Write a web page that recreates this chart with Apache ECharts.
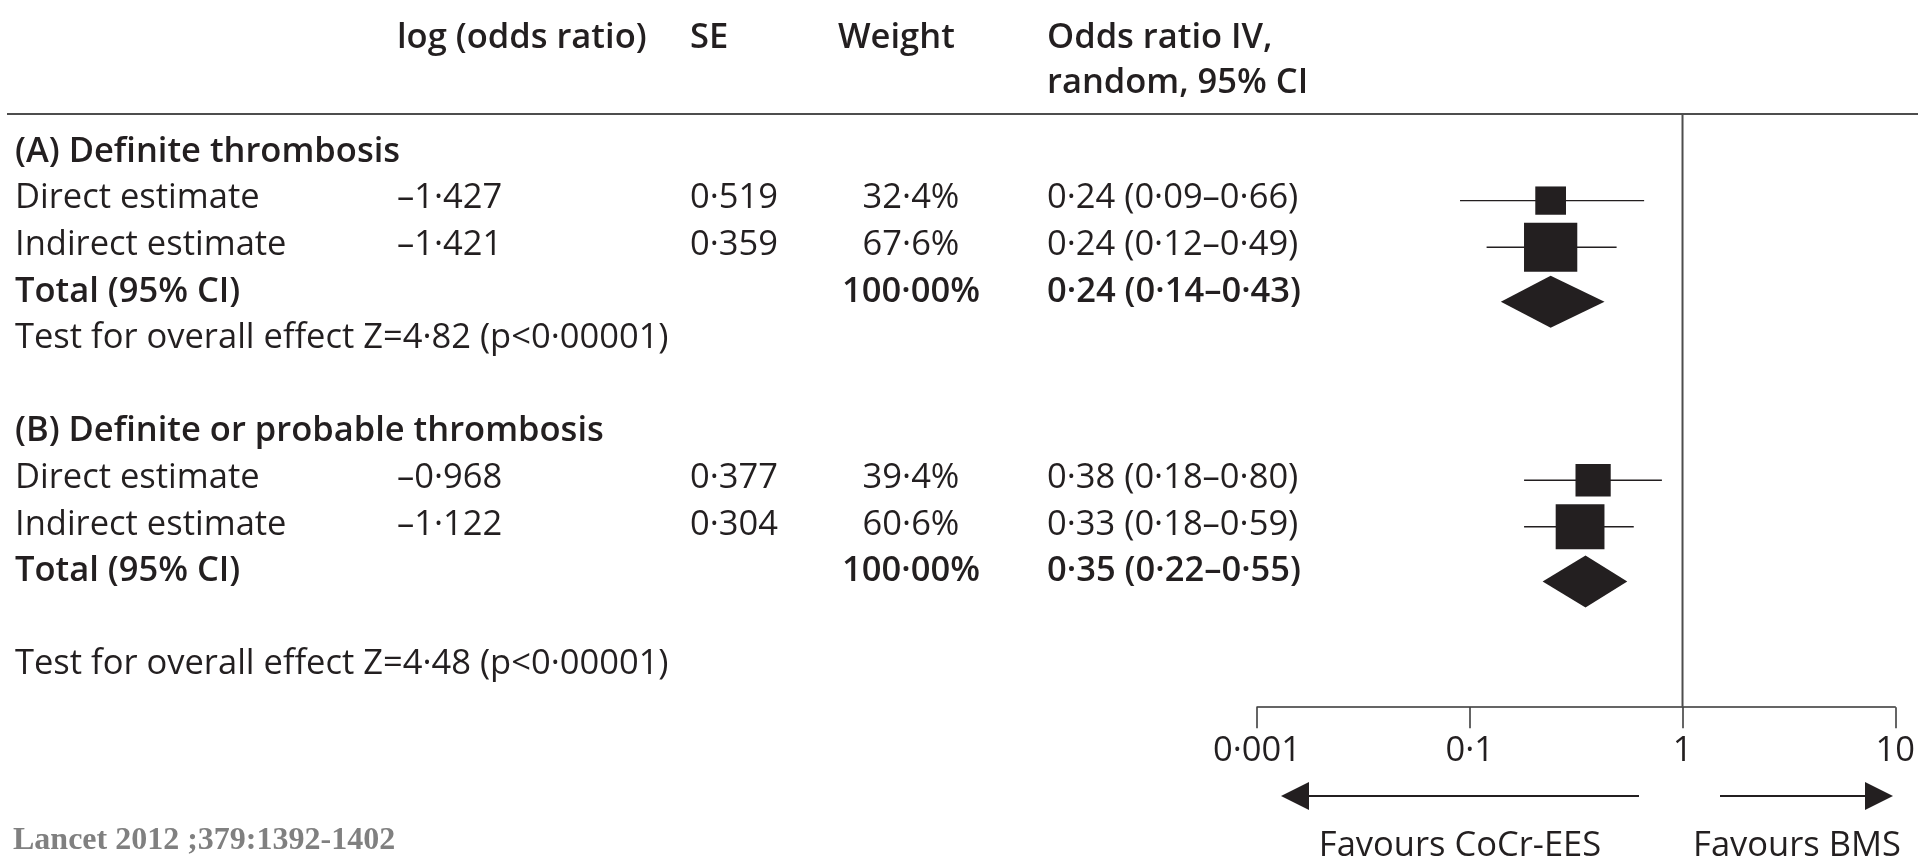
<!DOCTYPE html>
<html>
<head>
<meta charset="utf-8">
<title>Forest plot</title>
<script src="https://cdn.jsdelivr.net/npm/echarts@6/dist/echarts.min.js"></script>
<style>
  html, body { margin: 0; padding: 0; background: #fff; }
  #chart { width: 1918px; height: 862px; }
</style>
</head>
<body>
<div id="chart"></div>
<script>
// table header and row names
const headers = ["log (odds ratio)", "SE", "Weight", "Odds ratio IV,", "random, 95% CI"];
const groupTitles = ["(A) Definite thrombosis", "(B) Definite or probable thrombosis"];
const rowNames = ["Direct estimate", "Indirect estimate"];
const totalName = "Total (95% CI)";
// study rows: group A (direct, indirect), then group B (direct, indirect)
const logOdds = [-1.427, -1.421, -0.968, -1.122];
const stdErr = [0.519, 0.359, 0.377, 0.304];
const weight = [32.4, 67.6, 39.4, 60.6];
const oddsRatio = [0.24, 0.24, 0.38, 0.33];
const ciLow = [0.09, 0.12, 0.18, 0.18];
const ciHigh = [0.66, 0.49, 0.8, 0.59];
// pooled totals, one per group
const totalWeight = [100.0, 100.0];
const totalOR = [0.24, 0.35];
const totalLow = [0.14, 0.22];
const totalHigh = [0.43, 0.55];
const zValue = [4.82, 4.48];
const pValue = "p<0·00001";
// x axis (log scale)
const tickValues = [0.01, 0.1, 1, 10];
const tickLabels = ["0·001", "0·1", "1", "10"];
const favoursText = ["Favours CoCr-EES", "Favours BMS"];
const sourceText = "Lancet 2012 ;379:1392-1402";

// layout
const INK = "#231f20";
const RULE = "#4d4d4d";
const FONT = "Open Sans";
const FS = 34.5;
const BOLD = 600;
const TEXT_DY = 4;            // nudge table text down a little
const groupRow = [0, 6];      // row of the group title
const testRow = [4, 11];      // row of the "Test for overall effect" line
const headRow = [-2.45, -1.47];
const ruleRow = -0.73;        // header rule
const col = { label: 15, logOR: 397, se: 690, weight: 911, weightHead: 838, or: 1047 };

// 1·23 style numbers with en dash minus
const fmt = (v, d) => (v < 0 ? "–" : "") + Math.abs(v).toFixed(d).replace(".", "·");

// rows of the study / total marks
const studyRows = [];
const totalRows = [];
groupRow.forEach((g) => {
  studyRows.push(g + 1, g + 2);
  totalRows.push(g + 3);
});

// table text cells
const cells = [];
const cell = (x, row, text, bold, align) => cells.push({ x, row, text, bold: !!bold, align: align || "left" });
cell(col.logOR, headRow[0], headers[0], true);
cell(col.se, headRow[0], headers[1], true);
cell(col.weightHead, headRow[0], headers[2], true);
cell(col.or, headRow[0], headers[3], true);
cell(col.or, headRow[1], headers[4], true);
groupRow.forEach((g, gi) => {
  cell(col.label, g, groupTitles[gi], true);
  for (let k = 0; k < 2; k++) {
    const i = gi * 2 + k;
    cell(col.label, studyRows[i], rowNames[k]);
    cell(col.logOR, studyRows[i], fmt(logOdds[i], 3));
    cell(col.se, studyRows[i], fmt(stdErr[i], 3));
    cell(col.weight, studyRows[i], fmt(weight[i], 1) + "%", false, "center");
    cell(col.or, studyRows[i], fmt(oddsRatio[i], 2) + " (" + fmt(ciLow[i], 2) + "–" + fmt(ciHigh[i], 2) + ")");
  }
  cell(col.label, totalRows[gi], totalName, true);
  cell(col.weight, totalRows[gi], fmt(totalWeight[gi], 2) + "%", true, "center");
  cell(col.or, totalRows[gi], fmt(totalOR[gi], 2) + " (" + fmt(totalLow[gi], 2) + "–" + fmt(totalHigh[gi], 2) + ")", true);
  cell(col.label, testRow[gi], "Test for overall effect Z=" + fmt(zValue[gi], 2) + " (" + pValue + ")");
});

const chart = echarts.init(document.getElementById("chart"));

const gridBox = { top: 8.2, height: 699 };
const yAxisBase = { type: "value", inverse: true, min: -3, max: 12, show: false };

const option = {
  animation: false,
  grid: [
    // table grid: x in px columns
    { left: 0, right: 0, top: gridBox.top, height: gridBox.height },
    // forest plot grid
    { left: 1257, width: 640, top: gridBox.top, height: gridBox.height },
  ],
  xAxis: [
    { gridIndex: 0, type: "value", min: 0, max: 1918, show: false },
    {
      gridIndex: 1,
      type: "log",
      logBase: 10,
      position: "bottom",
      min: tickValues[0],
      max: tickValues[tickValues.length - 1],
      splitLine: { show: false },
      axisLine: { onZero: false, lineStyle: { color: "#333", width: 1.5 } },
      axisTick: { length: 21, lineStyle: { color: "#333", width: 1.5 } },
      axisLabel: {
        margin: 26,
        color: INK,
        fontFamily: FONT,
        fontSize: FS,
        formatter: (v) => {
          const i = tickValues.findIndex((t) => Math.abs(Math.log10(t) - Math.log10(v)) < 1e-6);
          return i >= 0 ? tickLabels[i] : "";
        },
      },
    },
  ],
  yAxis: [
    Object.assign({ gridIndex: 0 }, yAxisBase),
    Object.assign({ gridIndex: 1 }, yAxisBase),
  ],
  series: [
    // header rule
    {
      type: "line",
      xAxisIndex: 0,
      yAxisIndex: 0,
      data: [[7, ruleRow], [1918, ruleRow]],
      symbol: "none",
      lineStyle: { color: RULE, width: 2 },
      silent: true,
    },
    // table text
    {
      type: "custom",
      xAxisIndex: 0,
      yAxisIndex: 0,
      data: cells.map((c) => [c.x, c.row]),
      renderItem: (params, api) => {
        const c = cells[params.dataIndex];
        const p = api.coord([c.x, c.row]);
        return {
          type: "text",
          x: p[0],
          y: p[1] + TEXT_DY,
          style: {
            text: c.text,
            fill: INK,
            fontFamily: FONT,
            fontSize: FS,
            fontWeight: c.bold ? BOLD : "normal",
            align: c.align,
            verticalAlign: "middle",
          },
        };
      },
      silent: true,
    },
    // line of no effect (OR = 1)
    {
      type: "line",
      xAxisIndex: 1,
      yAxisIndex: 1,
      data: [[1, ruleRow], [1, 12]],
      symbol: "none",
      lineStyle: { color: RULE, width: 2 },
      silent: true,
    },
    // confidence interval whiskers
    {
      type: "custom",
      xAxisIndex: 1,
      yAxisIndex: 1,
      data: oddsRatio.map((_, i) => [ciLow[i], ciHigh[i], studyRows[i]]),
      encode: { x: [0, 1], y: 2 },
      renderItem: (params, api) => {
        const a = api.coord([api.value(0), api.value(2)]);
        const b = api.coord([api.value(1), api.value(2)]);
        return {
          type: "line",
          shape: { x1: a[0], y1: a[1] + 6, x2: b[0], y2: b[1] + 6 },
          style: { stroke: INK, lineWidth: 1.4 },
        };
      },
      silent: true,
    },
    // study squares sized by weight
    {
      type: "scatter",
      xAxisIndex: 1,
      yAxisIndex: 1,
      data: oddsRatio.map((v, i) => [v, studyRows[i], weight[i]]),
      symbol: "rect",
      symbolSize: (val) => {
        const w = 10 + 0.64 * val[2];
        return [w, w * 0.92];
      },
      symbolOffset: [0, 6],
      itemStyle: { color: INK, opacity: 1 },
      silent: true,
    },
    // pooled diamonds
    {
      type: "custom",
      xAxisIndex: 1,
      yAxisIndex: 1,
      data: totalOR.map((v, i) => [totalLow[i], v, totalHigh[i], totalRows[i]]),
      encode: { x: [0, 1, 2], y: 3 },
      renderItem: (params, api) => {
        const row = api.value(3);
        const l = api.coord([api.value(0), row]);
        const m = api.coord([api.value(1), row]);
        const r = api.coord([api.value(2), row]);
        const cy = m[1] + 14;
        const h = 26;
        return {
          type: "polygon",
          shape: { points: [[l[0], cy], [m[0], cy - h], [r[0], cy], [m[0], cy + h]] },
          style: { fill: INK },
        };
      },
      silent: true,
    },
  ],
  graphic: [
    // left arrow
    { type: "line", shape: { x1: 1308, y1: 796, x2: 1639, y2: 796 }, style: { stroke: INK, lineWidth: 2 } },
    { type: "polygon", shape: { points: [[1281, 796], [1309, 782], [1309, 810]] }, style: { fill: INK } },
    // right arrow
    { type: "line", shape: { x1: 1720, y1: 796, x2: 1866, y2: 796 }, style: { stroke: INK, lineWidth: 2 } },
    { type: "polygon", shape: { points: [[1893, 796], [1865, 782], [1865, 810]] }, style: { fill: INK } },
    {
      type: "text", x: 1460, y: 846,
      style: { text: favoursText[0], fill: INK, fontFamily: FONT, fontSize: FS, align: "center", verticalAlign: "middle" },
    },
    {
      type: "text", x: 1797, y: 846,
      style: { text: favoursText[1], fill: INK, fontFamily: FONT, fontSize: FS, align: "center", verticalAlign: "middle" },
    },
    {
      type: "text", x: 13, y: 841,
      style: {
        text: sourceText, fill: "#808080", fontFamily: "Liberation Serif", fontWeight: "bold",
        fontSize: 32, align: "left", verticalAlign: "middle",
      },
    },
  ],
};

chart.setOption(option);
</script>
</body>
</html>
